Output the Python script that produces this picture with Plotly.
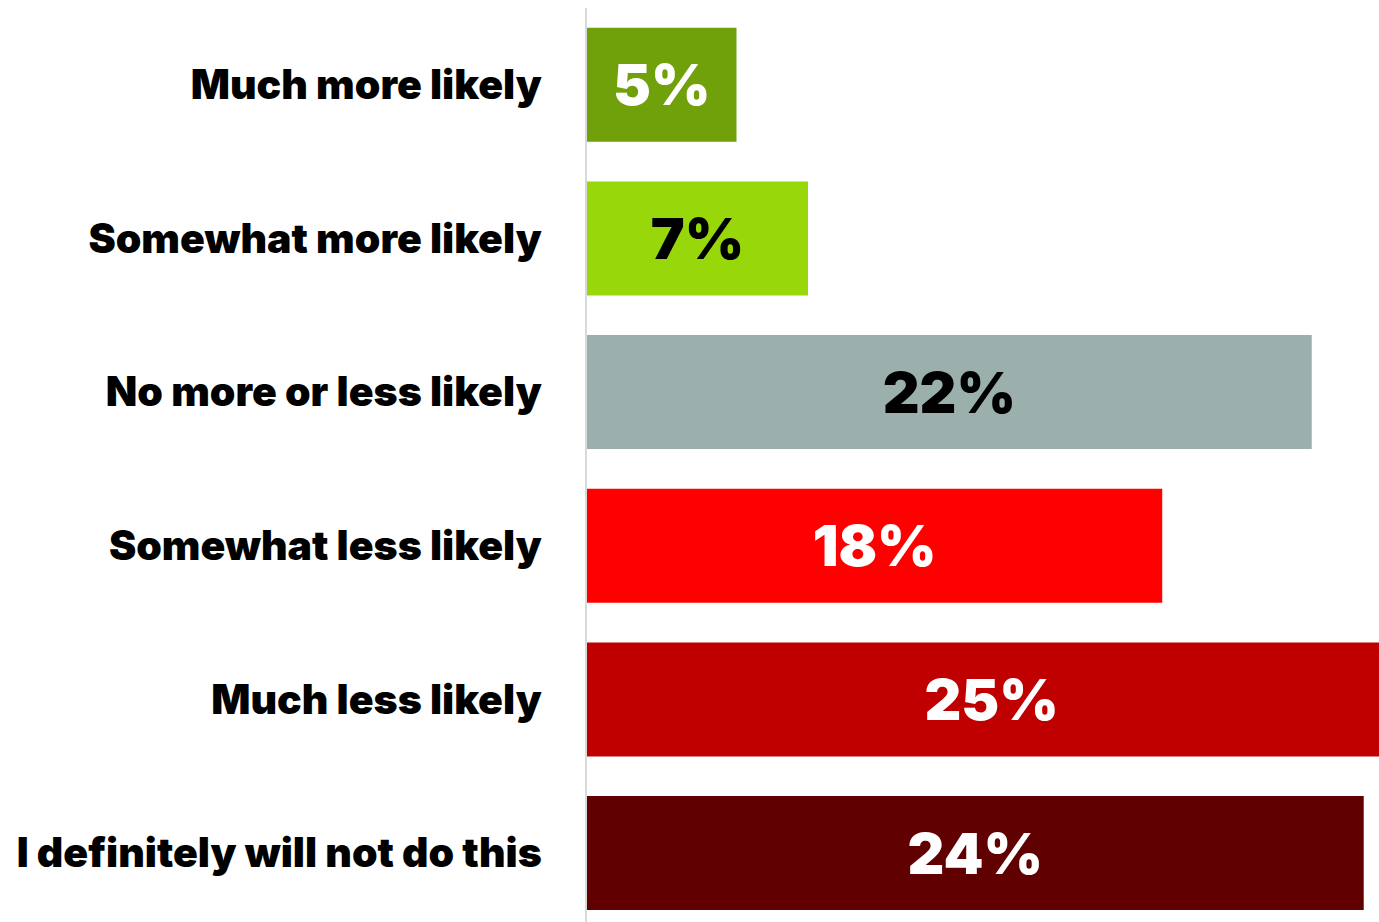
import plotly.graph_objects as go

categories = [
    "Much more likely",
    "Somewhat more likely",
    "No more or less likely",
    "Somewhat less likely",
    "Much less likely",
    "I definitely will not do this",
]
values = [4.6, 6.8, 22.3, 17.7, 24.9, 23.9]
labels = [f"{round(v)}%" for v in values]
bar_colors = ["#70A00A", "#98D70A", "#9BAFAD", "#FF0000", "#C00000", "#600000"]
text_colors = ["#FFFFFF", "#000000", "#000000", "#FFFFFF", "#FFFFFF", "#FFFFFF"]

FONT = "Inter, Lato, 'Open Sans', 'DejaVu Sans', sans-serif"

fig = go.Figure(
    go.Bar(
        x=values,
        y=categories,
        orientation="h",
        marker=dict(color=bar_colors, line=dict(width=0)),
        text=labels,
        textposition="inside",
        insidetextanchor="middle",
        textangle=0,
        insidetextfont=dict(family=FONT, size=57, color=text_colors, weight=900),
        hoverinfo="skip",
    )
)

fig.update_layout(
    width=1379,
    height=922,
    margin=dict(l=587, r=0, t=8, b=0, autoexpand=False),
    paper_bgcolor="white",
    plot_bgcolor="white",
    bargap=0.258,
    showlegend=False,
    font=dict(family=FONT),
    xaxis=dict(
        range=[0, 24.37],
        visible=False,
        showgrid=False,
        zeroline=False,
    ),
    yaxis=dict(
        type="category",
        range=[5.449, -0.5],
        showline=True,
        linecolor="#D9D9D9",
        linewidth=2,
        showgrid=False,
        zeroline=False,
        ticks="",
        ticklabelstandoff=35,
        tickfont=dict(family=FONT, size=41, color="#000000", weight=900),
        automargin=False,
    ),
)

fig.write_html(
    "out.html",
    config={"displayModeBar": False},
    post_script="document.body.style.margin='0';document.body.style.overflow='hidden';",
)
